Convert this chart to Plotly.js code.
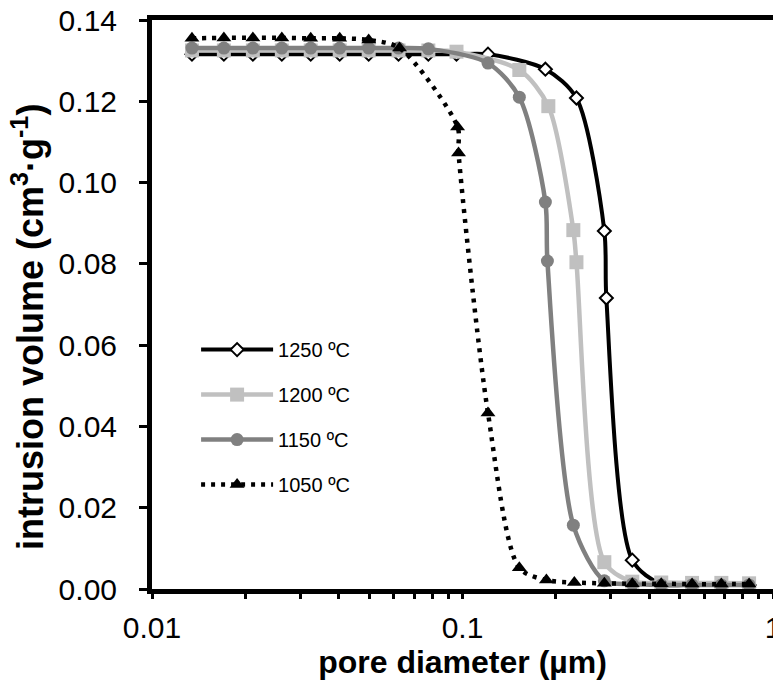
<!DOCTYPE html>
<html>
<head>
<meta charset="utf-8">
<script src="https://cdn.plot.ly/plotly-3.0.1.min.js"></script>
<style>html,body{margin:0;padding:0;background:#fff;overflow:hidden}#chart{width:773px;height:684px}</style>
</head>
<body>
<div id="chart"></div>
<script>
// series names
const seriesNames = ["1250 ºC", "1200 ºC", "1150 ºC", "1050 ºC"];

// pore diameter (µm) and intrusion volume (cm3/g) per series
const d1250 = [0.01345, 0.01704, 0.02113, 0.02619, 0.03245, 0.04023, 0.04987, 0.06222, 0.07763, 0.09565, 0.1208, 0.1849, 0.2328, 0.2863, 0.2906, 0.3522, 0.4366, 0.5487, 0.6818, 0.8375];
const v1250 = [0.1316, 0.1316, 0.1316, 0.1316, 0.1316, 0.1316, 0.1316, 0.1316, 0.1316, 0.1316, 0.1316, 0.1279, 0.1208, 0.0881, 0.0716, 0.0071, 0.0012, 0.0011, 0.0011, 0.0010];

const d1200 = [0.01345, 0.01704, 0.02113, 0.02619, 0.03245, 0.04023, 0.04987, 0.06222, 0.07763, 0.09565, 0.1524, 0.1890, 0.2275, 0.2328, 0.2863, 0.3522, 0.4366, 0.5487, 0.6818, 0.8375];
const v1200 = [0.1325, 0.1325, 0.1325, 0.1325, 0.1325, 0.1325, 0.1325, 0.1325, 0.1325, 0.1322, 0.1277, 0.1188, 0.0883, 0.0804, 0.0066, 0.0018, 0.0016, 0.0015, 0.0015, 0.0014];

const d1150 = [0.01345, 0.01704, 0.02113, 0.02619, 0.03245, 0.04023, 0.04987, 0.06222, 0.07763, 0.1208, 0.1524, 0.1849, 0.1877, 0.2275, 0.2863, 0.3522, 0.4366, 0.5487, 0.6818, 0.8375];
const v1150 = [0.1331, 0.1331, 0.1331, 0.1331, 0.1331, 0.1331, 0.1331, 0.1331, 0.1329, 0.1294, 0.1210, 0.0952, 0.0807, 0.0157, 0.0020, 0.0012, 0.0010, 0.0010, 0.0010, 0.0010];

const d1050 = [0.01345, 0.01704, 0.02113, 0.02619, 0.03245, 0.04023, 0.04987, 0.0627, 0.0964, 0.0971, 0.1208, 0.1524, 0.1863, 0.2292, 0.2863, 0.3522, 0.4366, 0.5487, 0.6818, 0.8375];
const v1050 = [0.1355, 0.1356, 0.1356, 0.1356, 0.1355, 0.1355, 0.1351, 0.1331, 0.1137, 0.1073, 0.0433, 0.0052, 0.0022, 0.0016, 0.0014, 0.0013, 0.0013, 0.0012, 0.0012, 0.0012];

// axis ticks and titles
const xTickVals = [0.01, 0.1, 1];
const xTickText = ["0.01", "0.1", "1"];
const xMinorVals = [0.02,0.03,0.04,0.05,0.06,0.07,0.08,0.09,0.2,0.3,0.4,0.5,0.6,0.7,0.8,0.9];
const yTickVals = [0, 0.02, 0.04, 0.06, 0.08, 0.10, 0.12, 0.14];
const xTitle = "<b>pore diameter (µm)</b>";
const yTitle = "<b>intrusion volume (cm<sup>3</sup>·g<sup>-1</sup>)</b>";

const FONT = "Liberation Sans, Arial, sans-serif";

const traces = [
  {x: d1250, y: v1250, name: seriesNames[0], legendgroup: "a", mode: "lines+markers",
   line: {color: "#000000", width: 4, shape: "spline", smoothing: 0.8},
   marker: {symbol: "diamond", size: 10, color: "#ffffff", line: {color: "#000000", width: 2}}},
  {x: d1200, y: v1200, name: seriesNames[1], legendgroup: "b", mode: "lines+markers",
   line: {color: "#c0c0c0", width: 4.5, shape: "spline", smoothing: 0.8},
   marker: {symbol: "square", size: 14, color: "#c0c0c0"}},
  {x: d1150, y: v1150, name: seriesNames[2], legendgroup: "c", mode: "lines+markers",
   line: {color: "#808080", width: 4.5, shape: "spline", smoothing: 0.8},
   marker: {symbol: "circle", size: 13, color: "#808080"}},
  {x: d1050, y: v1050, name: seriesNames[3], legendgroup: "d", mode: "lines+markers",
   line: {color: "#000000", width: 4.5, dash: "4px,6px", shape: "spline", smoothing: 0.8},
   marker: {symbol: "triangle-up", size: 13, color: "#000000"}}
];

const layout = {
  width: 773, height: 684,
  margin: {l: 152, r: 0, t: 20, b: 95, pad: 0},
  paper_bgcolor: "#ffffff", plot_bgcolor: "#ffffff",
  font: {family: FONT, color: "#000000"},
  showlegend: true,
  legend: {x: 0.071, y: 0.455, xanchor: "left", yanchor: "top",
           font: {family: FONT, size: 20, color: "#000000"},
           bgcolor: "rgba(0,0,0,0)", tracegroupgap: 16, itemwidth: 72},
  xaxis: {type: "log", range: [-2, 0], autorange: false,
          tickvals: xTickVals, ticktext: xTickText, ticklabeloverflow: "allow",
          ticks: "outside", ticklen: 5, tickwidth: 3, tickcolor: "#000",
          minor: {tickvals: xMinorVals, ticks: "outside", ticklen: 5, tickwidth: 3, tickcolor: "#000", showgrid: false},
          showline: true, linewidth: 5, linecolor: "#000", mirror: true,
          showgrid: false, zeroline: false,
          tickfont: {family: FONT, size: 30, color: "#000"}, ticklabelstandoff: 3,
          title: {text: xTitle, font: {family: FONT, size: 32, color: "#000"}, standoff: 2},
          automargin: false},
  yaxis: {range: [0, 0.14], autorange: false,
          tickvals: yTickVals, tickformat: ".2f",
          ticks: "outside", ticklen: 8, tickwidth: 3, tickcolor: "#000",
          showline: true, linewidth: 5, linecolor: "#000", mirror: false,
          showgrid: false, zeroline: false,
          tickfont: {family: FONT, size: 30, color: "#000"}, ticklabelstandoff: 16,
          automargin: false},
  annotations: [
    {text: yTitle, xref: "paper", yref: "paper", x: -0.2, y: 0.46,
     xanchor: "center", yanchor: "middle", textangle: -90, showarrow: false,
     font: {family: FONT, size: 36, color: "#000"}}
  ]
};

Plotly.newPlot("chart", traces, layout, {displayModeBar: false, staticPlot: true});
</script>
</body>
</html>
